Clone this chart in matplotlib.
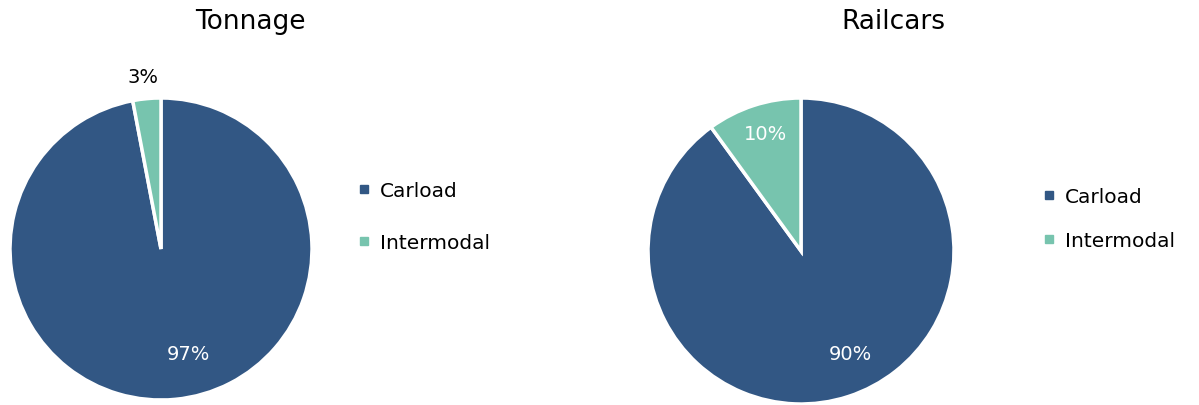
import matplotlib.pyplot as plt
from matplotlib.lines import Line2D

categories = ["Carload", "Intermodal"]
tonnage = [97, 3]
railcars = [90, 10]
colors = ["#325784", "#77C4AE"]

plt.rcParams['font.family'] = ['DejaVu Sans']

fig = plt.figure(figsize=(11.99, 4.06), dpi=100)
W, H = 1199, 406


def pie_axes(cx, cy, r):
    return fig.add_axes([(cx - r) / W, (H - cy - r) / H, 2 * r / W, 2 * r / H])


def draw_pie(ax, values, label_pos, label_colors):
    ax.pie(values, colors=colors, startangle=90, counterclock=False,
           wedgeprops=dict(edgecolor="white", linewidth=2.5))
    ax.set_xlim(-1, 1)
    ax.set_ylim(-1, 1)
    ax.set_aspect("equal")
    ax.axis("off")
    for v, (x, y), c in zip(values, label_pos, label_colors):
        ax.text(x, y, f"{v}%", ha="center", va="center", fontsize=14,
                color=c, clip_on=False)


ax1 = pie_axes(161, 250, 151)
draw_pie(ax1, tonnage, [(0.18, -0.695), (-0.12, 1.14)], ["white", "black"])

ax2 = pie_axes(801, 252, 153)
draw_pie(ax2, railcars, [(0.32, -0.67), (-0.235, 0.765)], ["white", "white"])

fig.text(250 / W, 1 - 22 / H, "Tonnage", ha="center", va="center", fontsize=19)
fig.text(893 / W, 1 - 22 / H, "Railcars", ha="center", va="center", fontsize=19)

handles = [Line2D([], [], marker="s", linestyle="none", markersize=6,
                  color=c) for c in colors]


def legend_at(x, y, spacing):
    fig.legend(handles, categories, loc="upper left",
               bbox_to_anchor=(x / W, 1 - y / H), frameon=False,
               fontsize=14.5, handlelength=0.6, handletextpad=0.5,
               labelspacing=spacing, borderaxespad=0)


legend_at(350, 174, 1.65)
legend_at(1035, 180, 1.25)

fig.savefig("out.png", dpi=100)
